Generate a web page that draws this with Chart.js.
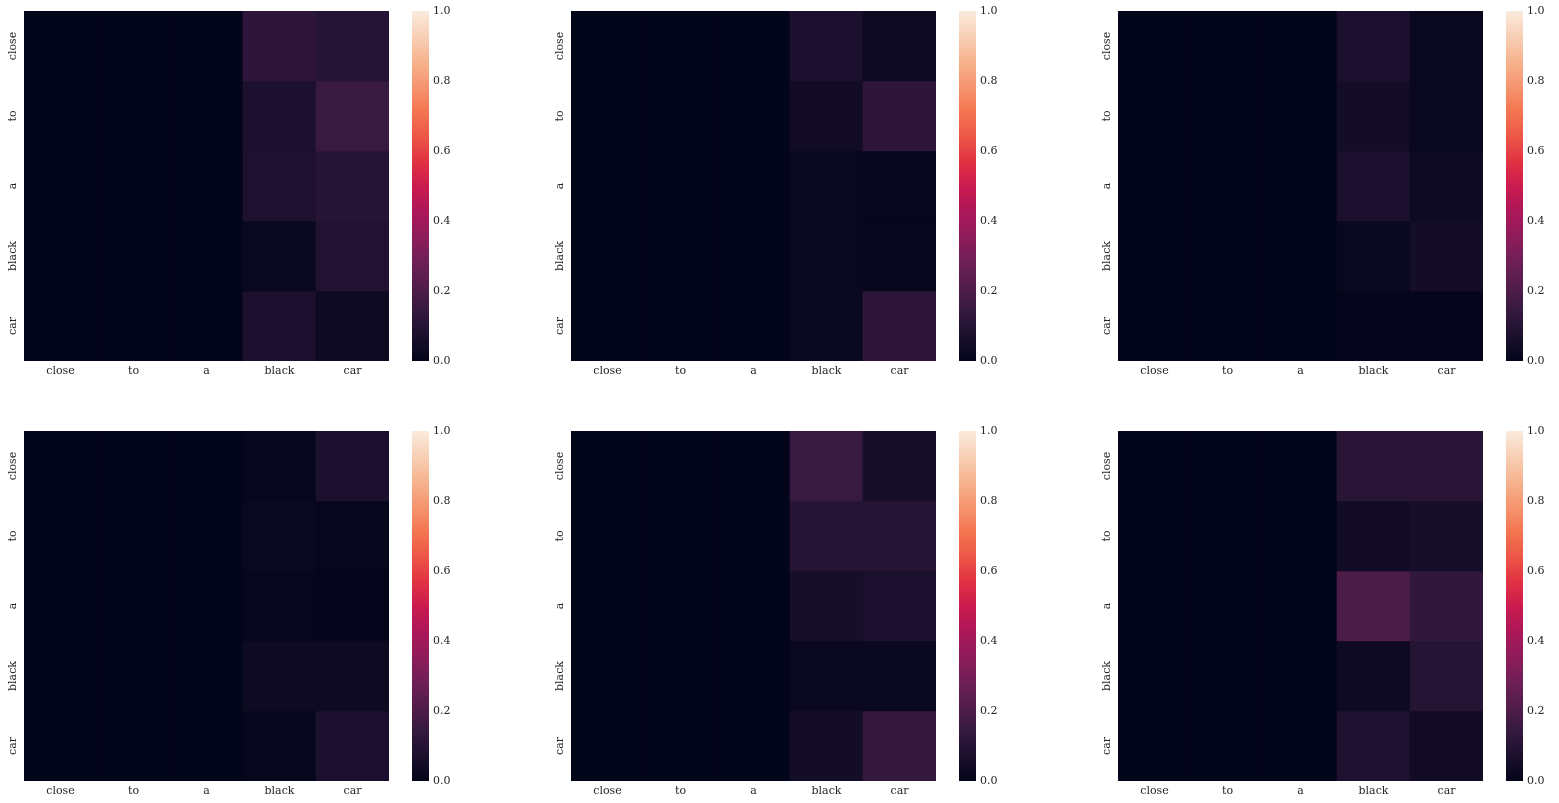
<!DOCTYPE html>
<html>
<head>
<meta charset="utf-8">
<script src="https://cdn.jsdelivr.net/npm/chart.js@4.4.0/dist/chart.umd.min.js"></script>
<style>
  html, body { margin: 0; padding: 0; background: #fff; }
  #fig { position: relative; width: 1559px; height: 803px; overflow: hidden; }
  #fig canvas { position: absolute; }
</style>
</head>
<body>
<div id="fig"></div>
<script>
var tokens = ['close', 'to', 'a', 'black', 'car'];
var cbarTicks = [0.0, 0.2, 0.4, 0.6, 0.8, 1.0];

// attention weights, rows = query token, cols = key token
var head1 = [
    [0, 0, 0, 0.12, 0.10],
    [0, 0, 0, 0.07, 0.15],
    [0, 0, 0, 0.08, 0.10],
    [0, 0, 0, 0.02, 0.09],
    [0, 0, 0, 0.07, 0.03]
];
var head2 = [
    [0, 0, 0, 0.07, 0.03],
    [0, 0, 0, 0.04, 0.12],
    [0, 0, 0, 0.02, 0.01],
    [0, 0, 0, 0.02, 0.01],
    [0, 0, 0, 0.02, 0.12]
];
var head3 = [
    [0, 0, 0, 0.07, 0.02],
    [0, 0, 0, 0.05, 0.02],
    [0, 0, 0, 0.07, 0.03],
    [0, 0, 0, 0.02, 0.05],
    [0, 0, 0, 0.005, 0.005]
];
var head4 = [
    [0, 0, 0, 0.01, 0.07],
    [0, 0, 0, 0.02, 0.01],
    [0, 0, 0, 0.01, 0.005],
    [0, 0, 0, 0.03, 0.03],
    [0, 0, 0, 0.01, 0.07]
];
var head5 = [
    [0, 0, 0, 0.15, 0.06],
    [0, 0, 0, 0.10, 0.10],
    [0, 0, 0, 0.06, 0.07],
    [0, 0, 0, 0.02, 0.02],
    [0, 0, 0, 0.05, 0.14]
];
var head6 = [
    [0, 0, 0, 0.11, 0.11],
    [0, 0, 0, 0.04, 0.06],
    [0, 0, 0, 0.19, 0.13],
    [0, 0, 0, 0.03, 0.10],
    [0, 0, 0, 0.08, 0.04]
];
var heads = [head1, head2, head3, head4, head5, head6];

// seaborn "rocket" colormap, approximated
var rocketStops = [
    [0.000, [3, 5, 26]],
    [0.071, [27, 16, 45]],
    [0.143, [53, 25, 62]],
    [0.214, [84, 29, 75]],
    [0.286, [112, 31, 87]],
    [0.357, [143, 28, 90]],
    [0.429, [173, 23, 89]],
    [0.500, [203, 27, 79]],
    [0.571, [225, 51, 66]],
    [0.643, [237, 87, 71]],
    [0.714, [243, 118, 81]],
    [0.786, [245, 150, 112]],
    [0.857, [246, 180, 143]],
    [1.000, [250, 235, 221]]
];

function rocket(v) {
    v = Math.max(0, Math.min(1, v));
    for (var i = 1; i < rocketStops.length; i++) {
        var a = rocketStops[i - 1], b = rocketStops[i];
        if (v <= b[0]) {
            var t = (v - a[0]) / (b[0] - a[0]);
            var c = a[1].map(function(x, j) { return Math.round(x + (b[1][j] - x) * t); });
            return 'rgb(' + c.join(',') + ')';
        }
    }
    return 'rgb(250,235,221)';
}

var FONT = "'DejaVu Serif', serif";
var TEXT = '#262626';

Chart.defaults.font.family = FONT;
Chart.defaults.font.size = 11;
Chart.defaults.color = TEXT;
Chart.defaults.animation = false;
Chart.defaults.plugins.legend.display = false;
Chart.defaults.plugins.tooltip.enabled = false;

// vertical row labels, like matplotlib's rotated yticklabels
var rowLabels = {
    id: 'rowLabels',
    afterDraw: function(chart) {
        var y = chart.scales.y, c = chart.ctx;
        c.save();
        c.font = '11px ' + FONT;
        c.fillStyle = TEXT;
        c.textAlign = 'center';
        c.textBaseline = 'middle';
        tokens.forEach(function(t, i) {
            c.save();
            c.translate(chart.chartArea.left - 11, y.getPixelForValue(i + 0.5));
            c.rotate(-Math.PI / 2);
            c.fillText(t, 0, 0);
            c.restore();
        });
        c.restore();
    }
};

var fig = document.getElementById('fig');

function addCanvas(left, top, w, h) {
    var c = document.createElement('canvas');
    c.width = w;
    c.height = h;
    c.style.left = left + 'px';
    c.style.top = top + 'px';
    c.style.width = w + 'px';
    c.style.height = h + 'px';
    fig.appendChild(c);
    return c.getContext('2d');
}

function noPad(scale) {
    scale.paddingLeft = 0;
    scale.paddingRight = 0;
    scale.paddingTop = 0;
    scale.paddingBottom = 0;
}

var W = 365, H = 350;

heads.forEach(function(m, k) {
    var hx = 24 + (k % 3) * 547;
    var hy = 11 + Math.floor(k / 3) * 420;

    // heatmap
    var ctx = addCanvas(hx - 30, hy - 5, 30 + W + 5, 5 + H + 25);
    new Chart(ctx, {
        type: 'bar',
        data: {
            labels: tokens,
            datasets: m.map(function(row, r) {
                return {
                    data: row.map(function() { return [r, r + 1]; }),
                    backgroundColor: row.map(rocket),
                    borderWidth: 0,
                    barPercentage: 1,
                    categoryPercentage: 1,
                    grouped: false
                };
            })
        },
        options: {
            responsive: false,
            layout: { padding: { top: 5, right: 5, left: 0, bottom: 0 } },
            scales: {
                x: {
                    type: 'category',
                    grid: { display: false, drawTicks: false },
                    border: { display: false },
                    ticks: { maxRotation: 0, minRotation: 0, padding: 4 },
                    afterFit: function(s) { noPad(s); s.height = 25; }
                },
                y: {
                    type: 'linear',
                    min: 0,
                    max: 5,
                    reverse: true,
                    grid: { display: false, drawTicks: false },
                    border: { display: false },
                    ticks: { display: false },
                    afterFit: function(s) { noPad(s); s.width = 30; }
                }
            }
        },
        plugins: [rowLabels]
    });

    // colorbar
    var cctx = addCanvas(hx + W + 23, hy - 10, 17 + 45, H + 20);
    new Chart(cctx, {
        type: 'bar',
        data: {
            labels: [''],
            datasets: [{
                data: [[cbarTicks[0], cbarTicks[cbarTicks.length - 1]]],
                backgroundColor: function(c) {
                    var area = c.chart.chartArea;
                    if (!area) return rocket(0);
                    var g = c.chart.ctx.createLinearGradient(0, area.bottom, 0, area.top);
                    rocketStops.forEach(function(s) {
                        g.addColorStop(s[0], 'rgb(' + s[1].join(',') + ')');
                    });
                    return g;
                },
                borderWidth: 0,
                barPercentage: 1,
                categoryPercentage: 1
            }]
        },
        options: {
            responsive: false,
            layout: { padding: { top: 10, bottom: 10, left: 0, right: 0 } },
            scales: {
                x: { display: false },
                y: {
                    position: 'right',
                    min: 0,
                    max: 1,
                    grid: { display: false, drawTicks: false },
                    border: { display: false },
                    afterBuildTicks: function(s) {
                        s.ticks = cbarTicks.map(function(v) { return { value: v }; });
                    },
                    ticks: {
                        padding: 4,
                        callback: function(v) { return Number(v).toFixed(1); }
                    },
                    afterFit: function(s) { noPad(s); s.width = 45; }
                }
            }
        }
    });
});
</script>
</body>
</html>
